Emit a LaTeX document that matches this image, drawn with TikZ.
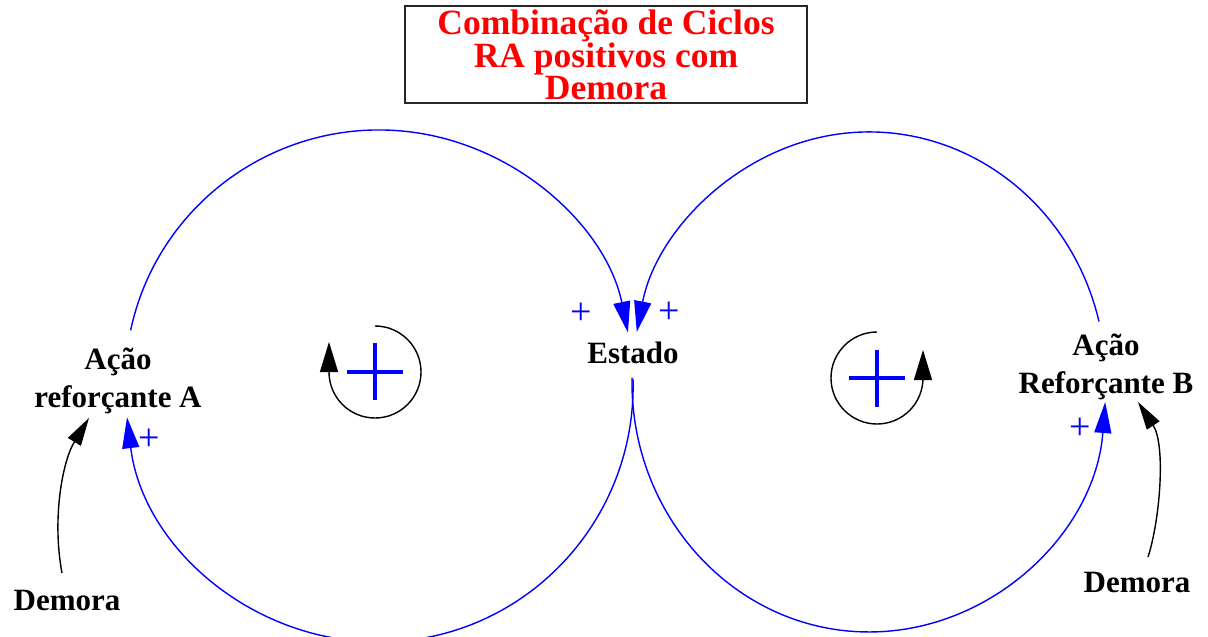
\documentclass[tikz,border=0pt]{standalone}
\usepackage{fontspec}
\setmainfont{Liberation Serif}
\usetikzlibrary{arrows.meta}
\definecolor{loopblue}{RGB}{0,0,255}
\definecolor{titlered}{RGB}{255,0,0}
\tikzset{
  lbl/.style={font=\fontsize{31}{38}\selectfont\bfseries, align=center, inner sep=0pt},
  link/.style={draw=loopblue, line width=1.4pt, -{Triangle[length=31pt,width=17pt]}},
  delay/.style={draw=black, line width=1.4pt, -{Triangle[length=28pt,width=15pt]}},
  pol/.style={text=loopblue, font=\fontsize{38}{38}\selectfont, inner sep=0pt},
  loopsym/.style={draw=black, line width=1.4pt, -{Triangle[length=30pt,width=18pt]}},
  bigplus/.style={draw=loopblue, line width=3.3pt},
}
\begin{document}
\begin{tikzpicture}[x=1pt,y=1pt]
\useasboundingbox (0,0) rectangle (1208,-637);

% title
\node[draw=black!85, line width=1.6pt, minimum width=402pt, minimum height=97pt,
      inner sep=0pt, text=titlered, font=\fontsize{35.5}{29.5}\selectfont\bfseries,
      align=center] (title) at (606,-54.5) {Combinação de Ciclos\\RA positivos com\\Demora};

% variables
\node[lbl, anchor=base] (estado) at (633,-363) {Estado};
\node[lbl] (acaoA) at (118,-381) {Ação\\reforçante A};
\node[lbl] (acaoB) at (1106,-367) {Ação\\Reforçante B};
\node[lbl, anchor=base] (demA) at (67,-610) {Demora};
\node[lbl, anchor=base] (demB) at (1137,-592) {Demora};

% arc end points next to the variables
\coordinate (A-top) at (130.6,-330.4);
\coordinate (E-low-left) at (633,-378.6);
\coordinate (B-top) at (1099,-321.5);
\coordinate (E-low-right) at (632,-377.6);
\coordinate (demA-top) at (62,-573);
\coordinate (demB-top) at (1148,-557);
\coordinate (A-in) at (89,-418);
\coordinate (B-in) at (1138,-402);

% left loop
\draw[link] (A-top) arc[start angle=168, end angle=11.5, x radius=254, y radius=253];
\draw[link] (E-low-left) arc[start angle=1.66, end angle=-173, x radius=254, y radius=256];
% right loop
\draw[link] (B-top) arc[start angle=14, end angle=168.5, x radius=237, y radius=250];
\draw[link] (E-low-right) arc[start angle=179, end angle=355.4, x radius=237, y radius=250];

% delays
\draw[delay] (demA-top) .. controls (52,-520) and (62,-462) .. (A-in);
\draw[delay] (demB-top) .. controls (1160,-520) and (1166,-445) .. (B-in);

% polarity signs
\node[pol] (pEl) at (581,-314) {+};
\node[pol] (pEr) at (669,-313) {+};
\node[pol] (pA) at (149,-440) {+};
\node[pol] (pB) at (1080,-429) {+};

% loop symbols
\draw[loopsym] (375,-326) arc[start angle=90, end angle=-180, radius=46] -- ++(0,30);
\draw[bigplus] (347,-372) -- (403,-372);
\draw[bigplus] (375,-343) -- (375,-400);
\draw[loopsym] (877,-332) arc[start angle=90, end angle=360, radius=46] -- ++(0,28);
\draw[bigplus] (849,-378) -- (905,-378);
\draw[bigplus] (877,-350) -- (877,-407);
\end{tikzpicture}
\end{document}
